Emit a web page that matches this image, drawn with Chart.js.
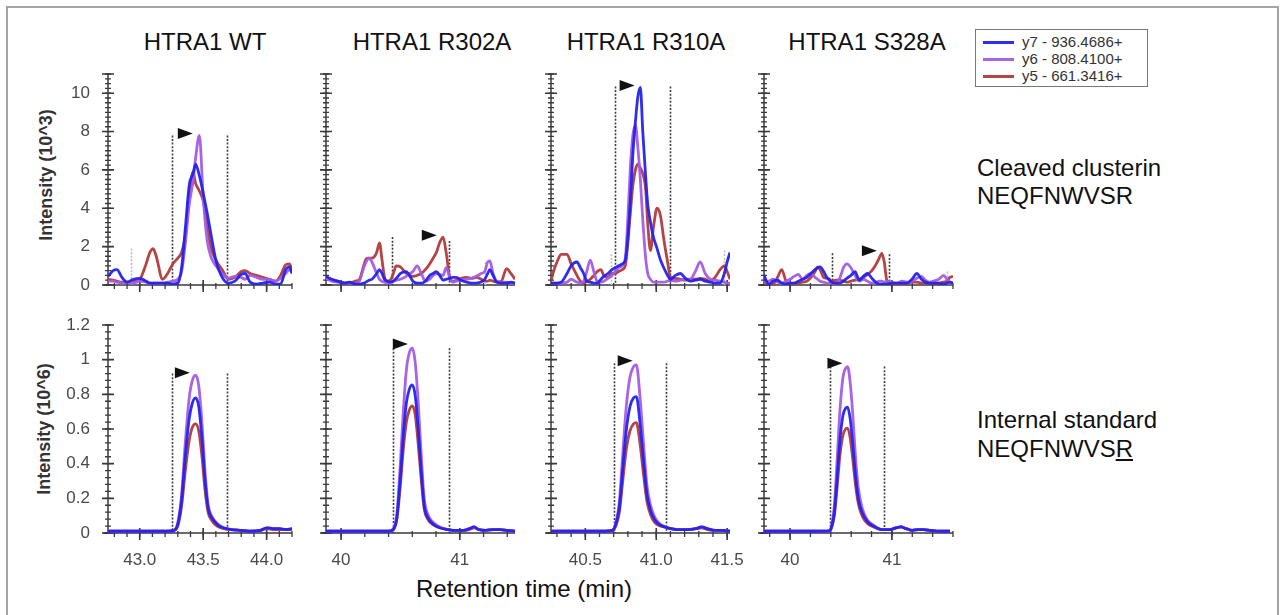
<!DOCTYPE html>
<html>
<head>
<meta charset="utf-8">
<script src="https://cdn.jsdelivr.net/npm/chart.js@4.4.1/dist/chart.umd.min.js"></script>
<style>
  html, body { margin: 0; width: 1284px; height: 615px; overflow: hidden; background: #fff; }
  body { position: relative; font-family: "Liberation Sans", Arial, sans-serif; color: #111; }
  #frame { position: absolute; left: 6px; top: 6px; width: 1269px; height: 630px; border: 2px solid #a3a3a3; }
  .panel { position: absolute; }
  .panel canvas { display: block; }
  .title { position: absolute; top: 30px; width: 220px; text-align: center; font-size: 24px; line-height: 24px; }
  .side { position: absolute; left: 977px; font-size: 24px; line-height: 24px; white-space: nowrap; }
  .ytitle { position: absolute; font-weight: bold; font-size: 18px; line-height: 18px; color: #333;
            white-space: nowrap; transform: translate(-50%, -50%) rotate(-90deg); }
  .xtitle { position: absolute; top: 577px; left: 374px; width: 300px; text-align: center; font-size: 24px; line-height: 24px; }
  #legend { position: absolute; left: 975px; top: 29px; width: 171px; height: 56px; border: 1px solid #777; background: #fff; }
  #legend .row { position: absolute; left: 0; height: 16px; }
  #legend .swatch { position: absolute; left: 7px; top: 7px; width: 31px; height: 3px; }
  #legend .lbl { position: absolute; left: 46px; top: 0; font-size: 15px; line-height: 16px; color: #333; white-space: nowrap; }
</style>
</head>
<body>
<div id="frame"></div>

<div class="title" style="left:95px">HTRA1 WT</div>
<div class="title" style="left:322px">HTRA1 R302A</div>
<div class="title" style="left:536px">HTRA1 R310A</div>
<div class="title" style="left:757px">HTRA1 S328A</div>

<div class="ytitle" style="left:46px; top:175px">Intensity (10^3)</div>
<div class="ytitle" style="left:44px; top:429px">Intensity (10^6)</div>

<div class="side" style="top:156px">Cleaved clusterin</div>
<div class="side" style="top:184px">NEQFNWVSR</div>
<div class="side" style="top:408px">Internal standard</div>
<div class="side" style="top:437px">NEQFNWVS<u>R</u></div>

<div class="xtitle">Retention time (min)</div>

<div id="legend"></div>

<script>
// transitions shown in every panel
const seriesNames = ['y7 - 936.4686+', 'y6 - 808.4100+', 'y5 - 661.3416+'];

// ---- cleaved clusterin, intensity in 10^3 ----
const wtCleavedTime = [42.75, 42.79, 42.82, 42.86, 42.90, 42.95, 43.00, 43.05, 43.08, 43.105, 43.13, 43.18, 43.22, 43.26, 43.30, 43.33, 43.36, 43.39, 43.42, 43.44, 43.47, 43.50, 43.53, 43.56, 43.60, 43.65, 43.70, 43.75, 43.80, 43.83, 43.87, 43.92, 43.97, 44.02, 44.07, 44.11, 44.15, 44.18, 44.20];
const wtCleavedY7 = [0.45, 0.75, 0.8, 0.4, 0.15, 0.3, 0.35, 0.2, 0.1, 0.1, 0.1, 0.1, 0.1, 0.05, 0.1, 0.9, 3.0, 5.2, 5.8, 6.3, 5.7, 4.8, 3.8, 2.7, 1.3, 0.4, 0.1, 0.2, 0.55, 0.6, 0.15, 0.05, 0.1, 0.15, 0.05, 0.05, 0.8, 0.95, 0.6];
const wtCleavedY6 = [0.2, 0.2, 0.15, 0.1, 0.15, 0.1, 0.2, 0.15, 0.1, 0.1, 0.1, 0.1, 0.15, 0.2, 0.3, 0.7, 2.2, 4.2, 5.4, 6.6, 7.8, 4.6, 2.4, 1.5, 1.0, 0.6, 0.35, 0.45, 0.4, 0.3, 0.5, 0.4, 0.3, 0.3, 0.2, 0.35, 0.6, 0.8, 0.7];
const wtCleavedY5 = [0.3, 0.25, 0.2, 0.15, 0.15, 0.2, 0.3, 1.1, 1.7, 1.9, 1.5, 0.3, 0.6, 1.1, 1.4, 1.7, 2.6, 4.6, 5.9, 5.3, 4.9, 4.4, 3.2, 2.0, 1.3, 0.8, 0.3, 0.4, 0.7, 0.75, 0.6, 0.5, 0.4, 0.3, 0.2, 0.5, 1.05, 1.1, 0.8];
const wtCleavedBounds = [[43.255, 7.8, false], [43.69, 7.8, false], [42.93, 1.9, true]];
const wtCleavedApex = [43.30, 7.9];

const r302aCleavedTime = [39.873, 39.92, 39.97, 40.03, 40.07, 40.12, 40.155, 40.19, 40.21, 40.235, 40.26, 40.30, 40.323, 40.345, 40.366, 40.39, 40.42, 40.44, 40.465, 40.50, 40.549, 40.58, 40.605, 40.64, 40.676, 40.71, 40.746, 40.775, 40.803, 40.83, 40.859, 40.885, 40.915, 40.94, 40.97, 41.01, 41.056, 41.10, 41.14, 41.18, 41.21, 41.235, 41.253, 41.28, 41.31, 41.35, 41.394, 41.43, 41.465];
const r302aCleavedY7 = [0.45, 0.3, 0.2, 0.1, 0.15, 0.05, 0.05, 0.1, 0.15, 0.25, 0.3, 0.6, 0.8, 0.6, 0.3, 0.2, 0.15, 0.2, 0.35, 0.6, 0.7, 0.45, 0.2, 0.1, 0.1, 0.2, 0.5, 0.6, 0.7, 0.5, 0.25, 0.3, 0.35, 0.4, 0.4, 0.25, 0.15, 0.1, 0.1, 0.15, 0.3, 0.6, 0.8, 0.5, 0.15, 0.1, 0.1, 0.15, 0.1];
const r302aCleavedY6 = [0.35, 0.2, 0.15, 0.1, 0.1, 0.1, 0.2, 0.9, 1.2, 1.4, 1.2, 0.6, 0.3, 0.2, 0.15, 0.1, 0.15, 0.2, 0.25, 0.3, 0.45, 0.6, 0.7, 1.0, 0.6, 0.2, 0.3, 0.5, 0.6, 0.55, 0.5, 0.9, 0.4, 0.15, 0.2, 0.25, 0.3, 0.35, 0.45, 0.6, 0.7, 1.2, 1.25, 0.6, 0.2, 0.15, 0.15, 0.1, 0.1];
const r302aCleavedY5 = [0.35, 0.3, 0.2, 0.1, 0.1, 0.2, 0.3, 1.0, 1.35, 1.4, 1.4, 1.7, 2.2, 1.3, 0.4, 0.2, 0.3, 0.6, 1.0, 0.95, 0.6, 0.5, 0.45, 0.5, 0.6, 0.8, 1.1, 1.4, 1.7, 2.2, 2.5, 1.7, 0.4, 0.2, 0.25, 0.35, 0.4, 0.35, 0.4, 0.3, 0.2, 0.2, 0.25, 0.2, 0.15, 0.2, 0.85, 0.6, 0.3];
const r302aCleavedBounds = [[40.428, 2.5, false], [40.907, 2.3, false], [41.21, 1.2, true]];
const r302aCleavedApex = [40.68, 2.6];

const r310aCleavedTime = [40.258, 40.28, 40.30, 40.33, 40.371, 40.40, 40.441, 40.465, 40.488, 40.51, 40.535, 40.56, 40.583, 40.61, 40.63, 40.66, 40.688, 40.71, 40.735, 40.76, 40.782, 40.80, 40.818, 40.835, 40.853, 40.87, 40.888, 40.905, 40.924, 40.94, 40.959, 40.98, 41.006, 41.03, 41.053, 41.08, 41.10, 41.135, 41.17, 41.205, 41.24, 41.275, 41.31, 41.345, 41.381, 41.415, 41.45, 41.48, 41.50, 41.52];
const r310aCleavedY7 = [0.1, 0.1, 0.1, 0.15, 0.6, 1.0, 1.2, 0.9, 0.6, 0.2, 0.15, 0.1, 0.1, 0.3, 0.45, 0.6, 0.8, 0.9, 1.0, 1.1, 1.3, 2.5, 4.5, 6.8, 8.5, 9.8, 10.3, 8.0, 5.8, 4.2, 3.3, 2.5, 1.9, 1.3, 0.9, 0.5, 0.3, 0.5, 0.6, 0.35, 0.2, 0.25, 0.3, 0.2, 0.15, 0.1, 0.1, 0.6, 1.2, 1.7];
const r310aCleavedY6 = [0.1, 0.1, 0.1, 0.1, 0.15, 0.3, 0.15, 0.1, 0.2, 0.7, 1.3, 0.7, 0.2, 0.15, 0.2, 0.35, 0.5, 0.7, 0.9, 1.0, 1.4, 3.5, 6.2, 7.8, 8.35, 7.2, 5.5, 3.4, 1.5, 0.6, 0.3, 0.15, 0.15, 0.15, 0.15, 0.2, 0.25, 0.2, 0.25, 0.3, 0.3, 0.7, 1.2, 0.6, 0.3, 0.25, 0.2, 0.15, 0.1, 0.1];
const r310aCleavedY5 = [0.2, 0.8, 1.2, 1.6, 1.6, 1.1, 0.5, 0.2, 0.1, 0.2, 0.3, 0.5, 0.7, 0.8, 0.5, 0.4, 0.6, 0.6, 0.7, 0.8, 1.0, 2.2, 3.8, 5.2, 6.0, 6.3, 6.1, 5.8, 5.1, 3.2, 1.8, 3.0, 4.0, 3.6, 2.4, 1.2, 0.4, 0.35, 0.3, 0.25, 0.3, 0.3, 0.35, 0.3, 0.2, 0.4, 0.8, 1.0, 0.7, 0.3];
const r310aCleavedBounds = [[40.712, 10.35, false], [41.095, 10.35, false], [40.68, 1.6, true], [41.48, 1.8, true]];
const r310aCleavedApex = [40.742, 10.4];

const s328aCleavedTime = [39.744, 39.79, 39.836, 39.877, 39.918, 39.96, 40.0, 40.04, 40.081, 40.123, 40.164, 40.205, 40.245, 40.27, 40.295, 40.33, 40.36, 40.385, 40.41, 40.45, 40.491, 40.524, 40.557, 40.598, 40.638, 40.68, 40.72, 40.76, 40.803, 40.83, 40.852, 40.875, 40.901, 40.925, 40.95, 41.0, 41.049, 41.098, 41.147, 41.196, 41.245, 41.29, 41.327, 41.368, 41.409, 41.46, 41.508, 41.54, 41.57, 41.6];
const s328aCleavedY7 = [0.5, 0.05, 0.2, 0.25, 0.1, 0.05, 0.1, 0.1, 0.2, 0.3, 0.4, 0.6, 0.8, 0.9, 0.95, 0.7, 0.4, 0.3, 0.15, 0.1, 0.1, 0.2, 0.35, 0.5, 0.7, 0.25, 0.45, 0.6, 0.35, 0.2, 0.1, 0.05, 0.05, 0.05, 0.05, 0.1, 0.1, 0.1, 0.1, 0.3, 0.6, 0.3, 0.15, 0.1, 0.1, 0.1, 0.05, 0.1, 0.15, 0.1];
const s328aCleavedY6 = [0.1, 0.2, 0.3, 0.15, 0.1, 0.2, 0.3, 0.45, 0.55, 0.3, 0.5, 0.6, 0.4, 0.3, 0.2, 0.15, 0.1, 0.1, 0.1, 0.1, 0.4, 0.9, 1.1, 0.9, 0.5, 0.2, 0.3, 0.2, 0.1, 0.1, 0.15, 0.2, 0.2, 0.15, 0.2, 0.15, 0.1, 0.2, 0.15, 0.2, 0.35, 0.45, 0.25, 0.15, 0.2, 0.3, 0.5, 0.3, 0.15, 0.1];
const s328aCleavedY5 = [0.1, 0.05, 0.05, 0.4, 0.8, 0.2, 0.05, 0.1, 0.1, 0.15, 0.2, 0.4, 0.7, 0.95, 0.8, 0.4, 0.35, 0.25, 0.2, 0.25, 0.25, 0.2, 0.15, 0.2, 0.25, 0.3, 0.4, 0.55, 0.75, 0.95, 1.15, 1.4, 1.65, 1.2, 0.25, 0.05, 0.05, 0.1, 0.1, 0.15, 0.15, 0.1, 0.1, 0.1, 0.05, 0.1, 0.15, 0.2, 0.4, 0.45];
const s328aCleavedBounds = [[40.416, 1.65, false], [40.973, 1.6, false], [41.54, 0.7, true]];
const s328aCleavedApex = [40.705, 1.79];

// ---- heavy internal standard, intensity in 10^6 ----
const wtStandardTime = [42.75, 42.85, 42.95, 43.05, 43.15, 43.22, 43.27, 43.30, 43.33, 43.36, 43.39, 43.415, 43.44, 43.465, 43.49, 43.515, 43.54, 43.57, 43.61, 43.66, 43.72, 43.80, 43.88, 43.95, 44.0, 44.05, 44.1, 44.15, 44.2];
const wtStandardY7 = [0.01, 0.01, 0.01, 0.01, 0.01, 0.01, 0.015, 0.05, 0.19, 0.45, 0.66, 0.75, 0.78, 0.73, 0.55, 0.30, 0.14, 0.085, 0.05, 0.03, 0.02, 0.015, 0.01, 0.015, 0.03, 0.025, 0.025, 0.02, 0.025];
const wtStandardY6 = [0.01, 0.01, 0.01, 0.01, 0.01, 0.01, 0.015, 0.06, 0.22, 0.53, 0.78, 0.88, 0.91, 0.85, 0.64, 0.35, 0.16, 0.095, 0.055, 0.03, 0.02, 0.015, 0.01, 0.015, 0.03, 0.025, 0.025, 0.02, 0.025];
const wtStandardY5 = [0.01, 0.01, 0.01, 0.01, 0.01, 0.01, 0.015, 0.04, 0.155, 0.365, 0.535, 0.61, 0.63, 0.59, 0.445, 0.245, 0.115, 0.07, 0.04, 0.025, 0.02, 0.015, 0.01, 0.015, 0.025, 0.02, 0.02, 0.02, 0.02];
const wtStandardBounds = [[43.255, 0.92, false], [43.685, 0.92, false]];
const wtStandardApex = [43.277, 0.925];

const r302aStandardTime = [39.873, 39.95, 40.05, 40.15, 40.25, 40.33, 40.40, 40.44, 40.47, 40.50, 40.525, 40.55, 40.575, 40.60, 40.625, 40.65, 40.675, 40.70, 40.73, 40.77, 40.83, 40.90, 40.97, 41.03, 41.08, 41.12, 41.16, 41.22, 41.28, 41.34, 41.40, 41.465];
const r302aStandardY7 = [0.01, 0.01, 0.01, 0.01, 0.01, 0.01, 0.01, 0.02, 0.09, 0.33, 0.57, 0.75, 0.83, 0.855, 0.79, 0.6, 0.36, 0.16, 0.09, 0.055, 0.03, 0.02, 0.015, 0.015, 0.025, 0.035, 0.02, 0.015, 0.02, 0.02, 0.015, 0.01];
const r302aStandardY6 = [0.01, 0.01, 0.01, 0.01, 0.01, 0.01, 0.01, 0.025, 0.11, 0.41, 0.71, 0.94, 1.04, 1.066, 0.98, 0.75, 0.45, 0.2, 0.11, 0.065, 0.035, 0.02, 0.015, 0.015, 0.025, 0.035, 0.02, 0.015, 0.02, 0.02, 0.015, 0.01];
const r302aStandardY5 = [0.01, 0.01, 0.01, 0.01, 0.01, 0.01, 0.01, 0.02, 0.08, 0.28, 0.49, 0.64, 0.71, 0.733, 0.68, 0.51, 0.31, 0.14, 0.08, 0.05, 0.03, 0.02, 0.015, 0.015, 0.02, 0.03, 0.02, 0.015, 0.02, 0.02, 0.015, 0.01];
const r302aStandardBounds = [[40.436, 1.066, false], [40.91, 1.066, false]];
const r302aStandardApex = [40.436, 1.09];

const r310aStandardTime = [40.258, 40.33, 40.41, 40.49, 40.57, 40.64, 40.69, 40.715, 40.74, 40.765, 40.79, 40.815, 40.84, 40.86, 40.885, 40.91, 40.935, 40.96, 40.99, 41.03, 41.08, 41.15, 41.22, 41.28, 41.32, 41.36, 41.42, 41.47, 41.52];
const r310aStandardY7 = [0.01, 0.01, 0.01, 0.01, 0.01, 0.01, 0.015, 0.05, 0.15, 0.38, 0.6, 0.73, 0.78, 0.787, 0.64, 0.42, 0.22, 0.13, 0.075, 0.045, 0.03, 0.02, 0.02, 0.025, 0.035, 0.025, 0.015, 0.015, 0.01];
const r310aStandardY6 = [0.01, 0.01, 0.01, 0.01, 0.01, 0.01, 0.015, 0.06, 0.18, 0.47, 0.74, 0.90, 0.96, 0.97, 0.79, 0.52, 0.27, 0.16, 0.09, 0.05, 0.03, 0.02, 0.02, 0.025, 0.035, 0.025, 0.015, 0.015, 0.01];
const r310aStandardY5 = [0.01, 0.01, 0.01, 0.01, 0.01, 0.01, 0.015, 0.04, 0.12, 0.31, 0.49, 0.59, 0.63, 0.637, 0.52, 0.34, 0.18, 0.105, 0.06, 0.04, 0.03, 0.02, 0.02, 0.025, 0.03, 0.02, 0.015, 0.015, 0.01];
const r310aStandardBounds = [[40.70, 0.98, false], [41.072, 0.98, false]];
const r310aStandardApex = [40.728, 0.994];

const s328aStandardTime = [39.744, 39.85, 39.95, 40.05, 40.15, 40.25, 40.33, 40.385, 40.41, 40.435, 40.46, 40.49, 40.52, 40.545, 40.565, 40.59, 40.615, 40.64, 40.67, 40.71, 40.76, 40.82, 40.90, 40.98, 41.04, 41.09, 41.14, 41.20, 41.26, 41.31, 41.38, 41.46, 41.57];
const s328aStandardY7 = [0.01, 0.01, 0.01, 0.01, 0.01, 0.01, 0.01, 0.012, 0.04, 0.12, 0.3, 0.54, 0.68, 0.72, 0.726, 0.66, 0.52, 0.35, 0.2, 0.115, 0.065, 0.04, 0.02, 0.02, 0.03, 0.035, 0.025, 0.015, 0.02, 0.02, 0.015, 0.01, 0.01];
const s328aStandardY6 = [0.01, 0.01, 0.01, 0.01, 0.01, 0.01, 0.01, 0.012, 0.05, 0.16, 0.4, 0.71, 0.9, 0.95, 0.96, 0.87, 0.69, 0.46, 0.26, 0.14, 0.075, 0.045, 0.02, 0.02, 0.03, 0.035, 0.025, 0.015, 0.02, 0.02, 0.015, 0.01, 0.01];
const s328aStandardY5 = [0.01, 0.01, 0.01, 0.01, 0.01, 0.01, 0.01, 0.012, 0.035, 0.1, 0.25, 0.45, 0.565, 0.6, 0.605, 0.55, 0.43, 0.29, 0.17, 0.095, 0.055, 0.035, 0.02, 0.02, 0.03, 0.035, 0.025, 0.015, 0.02, 0.02, 0.015, 0.01, 0.01];
const s328aStandardBounds = [[40.393, 0.96, false], [40.924, 0.96, false]];
const s328aStandardApex = [40.367, 0.98];

// ---- axes ----
const wtRange = [42.75, 44.2];
const r302aRange = [39.873, 41.465];
const r310aRange = [40.258, 41.52];
const s328aRange = [39.744, 41.6];
const wtXTicks = [43.0, 43.5, 44.0];
const wtXLabels = ['43.0', '43.5', '44.0'];
const r302aXTicks = [40, 41];
const r302aXLabels = ['40', '41'];
const r310aXTicks = [40.5, 41.0, 41.5];
const r310aXLabels = ['40.5', '41.0', '41.5'];
const s328aXTicks = [40, 41];
const s328aXLabels = ['40', '41'];

const cleavedYTicks = [0, 2, 4, 6, 8, 10];
const cleavedYLabels = ['0', '2', '4', '6', '8', '10'];
const standardYTicks = [0, 0.2, 0.4, 0.6, 0.8, 1.0, 1.2];
const standardYLabels = ['0', '0.2', '0.4', '0.6', '0.8', '1', '1.2'];

// ---- styling / placement ----
const FONT = '"Liberation Sans", Arial, sans-serif';
const seriesColors = ['rgba(35, 35, 238, 0.95)', 'rgba(164, 92, 228, 0.95)', 'rgba(178, 58, 58, 0.95)'];
const PAD_LEFT = 75, PAD_TOP = 40, PAD_RIGHT = 14, PAD_BOTTOM = 45;
const colLeft = [108, 326, 551, 764];
const colWidth = [184, 189, 179, 189];
const rowTop = [74, 325];
const rowHeight = [211, 208];

const columns = [
  { range: wtRange, ticks: wtXTicks, labels: wtXLabels, minor: 0.1 },
  { range: r302aRange, ticks: r302aXTicks, labels: r302aXLabels, minor: 0.2 },
  { range: r310aRange, ticks: r310aXTicks, labels: r310aXLabels, minor: 0.1 },
  { range: s328aRange, ticks: s328aXTicks, labels: s328aXLabels, minor: 0.2 }
];
const rows = [
  { max: 11, ticks: cleavedYTicks, labels: cleavedYLabels, minor: 0.25 },
  { max: 1.2, ticks: standardYTicks, labels: standardYLabels, minor: 0.04 }
];

const panels = [
  { row: 0, col: 0, time: wtCleavedTime, series: [wtCleavedY7, wtCleavedY6, wtCleavedY5], bounds: wtCleavedBounds, apex: wtCleavedApex },
  { row: 0, col: 1, time: r302aCleavedTime, series: [r302aCleavedY7, r302aCleavedY6, r302aCleavedY5], bounds: r302aCleavedBounds, apex: r302aCleavedApex },
  { row: 0, col: 2, time: r310aCleavedTime, series: [r310aCleavedY7, r310aCleavedY6, r310aCleavedY5], bounds: r310aCleavedBounds, apex: r310aCleavedApex },
  { row: 0, col: 3, time: s328aCleavedTime, series: [s328aCleavedY7, s328aCleavedY6, s328aCleavedY5], bounds: s328aCleavedBounds, apex: s328aCleavedApex },
  { row: 1, col: 0, time: wtStandardTime, series: [wtStandardY7, wtStandardY6, wtStandardY5], bounds: wtStandardBounds, apex: wtStandardApex },
  { row: 1, col: 1, time: r302aStandardTime, series: [r302aStandardY7, r302aStandardY6, r302aStandardY5], bounds: r302aStandardBounds, apex: r302aStandardApex },
  { row: 1, col: 2, time: r310aStandardTime, series: [r310aStandardY7, r310aStandardY6, r310aStandardY5], bounds: r310aStandardBounds, apex: r310aStandardApex },
  { row: 1, col: 3, time: s328aStandardTime, series: [s328aStandardY7, s328aStandardY6, s328aStandardY5], bounds: s328aStandardBounds, apex: s328aStandardApex }
];

function stepValues(from, to, step) {
  const out = [];
  const start = Math.ceil(from / step - 1e-6);
  for (let k = start; k * step <= to + 1e-6; k++) out.push(+(k * step).toFixed(4));
  return out;
}

// axis lines with "+" style tick marks crossing them
const axisMarks = {
  id: 'axisMarks',
  beforeDatasetsDraw(chart, args, o) {
    const { ctx, chartArea: a, scales: { x, y } } = chart;
    ctx.save();
    ctx.strokeStyle = '#3a3a3a';
    ctx.lineWidth = 1.5;
    ctx.beginPath();
    ctx.moveTo(a.left, a.top);
    ctx.lineTo(a.left, a.bottom);
    ctx.moveTo(a.left - 5, a.bottom);
    ctx.lineTo(a.right, a.bottom);
    ctx.stroke();

    ctx.lineWidth = 1.3;
    ctx.beginPath();
    stepValues(0, o.yMax, o.yMinor).forEach(v => {
      const py = y.getPixelForValue(v);
      ctx.moveTo(a.left - 3, py); ctx.lineTo(a.left + 3, py);
    });
    stepValues(o.xMin, o.xMax, o.xMinor).forEach(v => {
      const px = x.getPixelForValue(v);
      ctx.moveTo(px, a.bottom - 2); ctx.lineTo(px, a.bottom + 4);
    });
    ctx.stroke();

    ctx.lineWidth = 1.6;
    ctx.beginPath();
    o.yMajor.concat([o.yMax]).forEach(v => {
      const py = y.getPixelForValue(v);
      ctx.moveTo(a.left - 6, py); ctx.lineTo(a.left + 6, py);
    });
    o.xMajor.forEach(v => {
      const px = x.getPixelForValue(v);
      ctx.moveTo(px, a.bottom - 5); ctx.lineTo(px, a.bottom + 7);
    });
    ctx.stroke();
    ctx.restore();
  }
};

// integration boundaries (dotted) and the apex flag
const peakMarks = {
  id: 'peakMarks',
  beforeDatasetsDraw(chart, args, o) {
    const { ctx, chartArea: a, scales: { x, y } } = chart;
    ctx.save();
    ctx.lineWidth = 1.6;
    ctx.setLineDash([2, 1.6]);
    o.bounds.forEach(([t, top, faint]) => {
      const px = Math.round(x.getPixelForValue(t)) + 0.5;
      ctx.strokeStyle = faint ? '#bdbdbd' : '#3c3c3c';
      ctx.beginPath();
      ctx.moveTo(px, y.getPixelForValue(top));
      ctx.lineTo(px, a.bottom);
      ctx.stroke();
    });
    ctx.restore();
  },
  afterDatasetsDraw(chart, args, o) {
    const { ctx, scales: { x, y } } = chart;
    const px = x.getPixelForValue(o.apex[0]);
    const py = y.getPixelForValue(o.apex[1]);
    ctx.save();
    ctx.fillStyle = '#111';
    ctx.beginPath();
    ctx.moveTo(px, py - 5.5);
    ctx.lineTo(px + 15, py);
    ctx.lineTo(px, py + 5.5);
    ctx.closePath();
    ctx.fill();
    ctx.restore();
  }
};

Chart.defaults.font.family = FONT;

function makePanel(p) {
  const col = columns[p.col];
  const row = rows[p.row];
  const wrap = document.createElement('div');
  wrap.className = 'panel';
  wrap.style.left = (colLeft[p.col] - PAD_LEFT) + 'px';
  wrap.style.top = (rowTop[p.row] - PAD_TOP) + 'px';
  const canvas = document.createElement('canvas');
  canvas.width = PAD_LEFT + colWidth[p.col] + PAD_RIGHT;
  canvas.height = PAD_TOP + rowHeight[p.row] + PAD_BOTTOM;
  wrap.appendChild(canvas);
  document.body.appendChild(wrap);

  new Chart(canvas, {
    type: 'line',
    data: {
      datasets: p.series.map((vals, i) => ({
        label: seriesNames[i],
        data: p.time.map((t, k) => ({ x: t, y: vals[k] })),
        borderColor: seriesColors[i],
        borderWidth: 2.8,
        pointRadius: 0,
        fill: false,
        cubicInterpolationMode: 'monotone'
      }))
    },
    options: {
      responsive: false,
      animation: false,
      devicePixelRatio: 1,
      layout: { padding: { left: 0, top: PAD_TOP, right: PAD_RIGHT, bottom: 0 } },
      plugins: {
        legend: { display: false },
        tooltip: { enabled: false },
        axisMarks: {
          xMin: col.range[0], xMax: col.range[1], xMinor: col.minor, xMajor: col.ticks,
          yMax: row.max, yMinor: row.minor, yMajor: row.ticks
        },
        peakMarks: { bounds: p.bounds, apex: p.apex }
      },
      scales: {
        x: {
          type: 'linear',
          min: col.range[0],
          max: col.range[1],
          grid: { display: false, drawTicks: false },
          border: { display: false },
          afterBuildTicks: s => { s.ticks = col.ticks.map(v => ({ value: v })); },
          afterFit: s => { s.height = PAD_BOTTOM; s.paddingLeft = 0; s.paddingRight = 0; },
          ticks: {
            display: p.row === 1,
            autoSkip: false,
            maxRotation: 0,
            padding: 17,
            color: '#4a4a4a',
            font: { size: 17 },
            callback: (v, i) => col.labels[i]
          }
        },
        y: {
          min: 0,
          max: row.max,
          grid: { display: false, drawTicks: false },
          border: { display: false },
          afterBuildTicks: s => { s.ticks = row.ticks.map(v => ({ value: v })); },
          afterFit: s => { s.width = PAD_LEFT; s.paddingTop = 0; s.paddingBottom = 0; },
          ticks: {
            display: p.col === 0,
            padding: 18,
            color: '#4a4a4a',
            font: { size: 17 },
            callback: (v, i) => row.labels[i]
          }
        }
      }
    },
    plugins: [axisMarks, peakMarks]
  });
}

panels.forEach(makePanel);

// legend box
const legend = document.getElementById('legend');
seriesNames.forEach((name, i) => {
  const r = document.createElement('div');
  r.className = 'row';
  r.style.top = (4 + i * 17) + 'px';
  const sw = document.createElement('div');
  sw.className = 'swatch';
  sw.style.background = seriesColors[i];
  const lb = document.createElement('div');
  lb.className = 'lbl';
  lb.textContent = name;
  r.appendChild(sw);
  r.appendChild(lb);
  legend.appendChild(r);
});
</script>
</body>
</html>
